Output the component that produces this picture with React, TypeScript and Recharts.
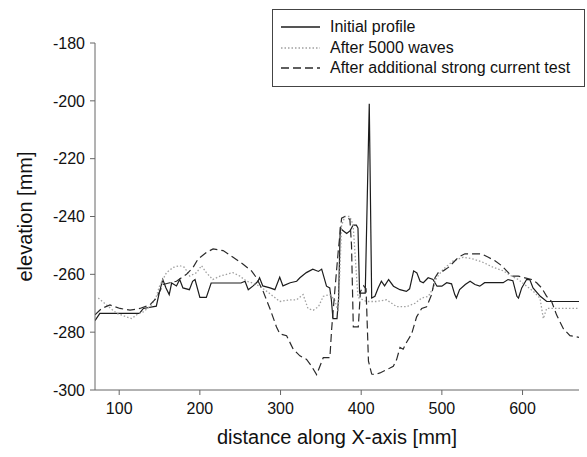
import React from 'react';
import { LineChart, Line, XAxis, YAxis, Legend } from 'recharts';

const xTicks = [100, 200, 300, 400, 500, 600];
const yTicks = [-300, -280, -260, -240, -220, -200, -180];

const initialProfile: [number, number][] = [
  [70, -276], [76, -273.5], [125, -273.5], [130, -271.8], [146, -271], [150, -266],
  [154, -261.8], [158, -264.7], [162, -267], [165, -263], [171, -264], [175, -261.8],
  [179, -264.7], [187, -265.3], [191, -262.4], [194, -261.8], [200, -268], [208, -268],
  [214, -263], [251, -263], [256, -262.4], [260, -265.3], [266, -264], [272, -262.4],
  [274, -261.2], [278, -264], [287, -264.7], [293, -265.3], [299, -261], [303, -264],
  [312, -262.9], [320, -262.4], [324, -261.2], [332, -259.4], [340, -258.2], [347, -259],
  [351, -258.2], [357, -264.1], [361, -264.7], [363, -268.8], [365, -275.3], [370, -275.3],
  [372, -268.2], [374, -244.1], [378, -245], [382, -245.9], [386, -245], [390, -243],
  [394, -243], [396, -244], [398, -266.5], [405, -266.5], [410, -201], [413, -268.2],
  [417, -267.6], [421, -264.7], [425, -262.4], [429, -264], [434, -261.8], [440, -264.1],
  [448, -265.3], [456, -265.9], [460, -265], [465, -258.8], [469, -259.5], [473, -262.4],
  [477, -262.9], [483, -261.2], [489, -261.8], [494, -264.1], [500, -264.1], [506, -262.9],
  [512, -263.3], [516, -267], [518, -268.2], [522, -265.3], [529, -263.5], [535, -262.4],
  [541, -263.5], [547, -264.1], [553, -262.9], [560, -262.9], [568, -262.9], [576, -262.9],
  [582, -261.8], [588, -262.2], [593, -267.6], [595, -268.2], [599, -264.7], [605, -261.8],
  [609, -261.8], [613, -264.7], [622, -267.6], [630, -269.4], [670, -269.4],
];

const after5000Waves: [number, number][] = [
  [74, -268.2], [84.5, -270.6], [97, -273.5], [109, -274.7], [115.5, -275.3], [124, -273.5],
  [130, -273], [140, -270.6], [146, -267.6], [150, -264.1], [158.6, -259.4], [167, -257.6],
  [175, -257], [181, -257.6], [187.5, -260.6], [196, -259.4], [202, -257], [208, -259.4],
  [216, -261.8], [225, -260.6], [233, -260], [241, -259.4], [249.5, -260.6], [258, -262.4],
  [266, -263], [274, -264.1], [283, -265.9], [291, -267.6], [299, -269.4], [311.6, -268.8],
  [320, -268.8], [328, -267], [334, -271.8], [340.5, -272.4], [347, -271.2], [353, -267.6],
  [361, -267], [367, -268.8], [371.6, -273], [375.7, -243], [379.8, -240], [386, -240],
  [390, -243], [396, -268], [406.7, -269.4], [419, -269.4], [431.5, -268.8], [444, -271.2],
  [456.3, -271.2], [466.7, -270], [475, -268.2], [483.2, -267.6], [489.4, -264.7],
  [493.5, -261.2], [501.8, -258.2], [514.2, -255.3], [526.6, -254.1], [539, -254.7],
  [551.4, -255.9], [563.8, -257.6], [576.2, -258.8], [586.5, -260.6], [594.8, -261.8],
  [605.1, -264.1], [613.4, -265.9], [621.6, -268.2], [625.8, -275.3], [629.9, -271.8],
  [670, -271.8],
];

const afterCurrentTest: [number, number][] = [
  [70, -274], [78.3, -271.8], [88.6, -270.6], [101, -271.8], [113.4, -272.4], [125.6, -271.8],
  [138, -270.6], [146.2, -268.2], [154.5, -263.5], [162.8, -262.9], [171, -262.4],
  [177.2, -261.2], [183.4, -260], [191.6, -257.6], [197.8, -254.7], [208.2, -252.4],
  [216.4, -251.2], [228.8, -251.8], [241.2, -254.1], [253.6, -256.5], [264, -258.8],
  [270.2, -261.2], [278.5, -265.9], [286.8, -271.8], [295, -278.2], [299.2, -280.6],
  [307.5, -281.2], [315.7, -285.9], [324, -288.2], [332.3, -289.4], [338.5, -291.8],
  [344.7, -294.7], [348.8, -291.8], [353, -288.8], [361.2, -288.8], [363.4, -278.8],
  [367.5, -265], [371.6, -251.8], [375.7, -240.6], [379.8, -240], [386, -241], [388, -250],
  [390.2, -278.2], [396.4, -278.2], [399, -266], [403, -264], [406, -265], [409, -290],
  [413, -294.5], [417, -294.7], [423.3, -294.1], [435.7, -292.4], [439.8, -291.8],
  [444, -289.4], [448.1, -285.3], [452, -285.9], [456.3, -283.5], [462.5, -280.6],
  [468.7, -274.7], [475, -271.8], [481.1, -271.2], [487.3, -267], [491.5, -261.2],
  [495.6, -259.4], [501.8, -258.8], [508, -257.6], [514.2, -255.9], [520.4, -254.1],
  [528.6, -252.9], [539, -252.9], [549.3, -252.9], [557.6, -254.1], [565.8, -255.3],
  [574.1, -257], [580.3, -258.8], [586.5, -260.6], [594.8, -260.6], [603, -261.2],
  [611.3, -261.8], [617.5, -262.9], [623.7, -264.7], [629.9, -267.6], [636.1, -269.4],
  [642.3, -274.1], [650.6, -278.8], [658.8, -281.2], [670, -281.8],
];

const seriesNames = ['Initial profile', 'After 5000 waves', 'After additional strong current test'];

const FONT = '"Liberation Sans", Arial, Helvetica, sans-serif';

const toRows = (pts: [number, number][]) => pts.map(([x, y]) => ({ x, y }));

const styles = [
  { stroke: '#1c1c1c', dash: undefined as string | undefined, width: 1.2 },
  { stroke: '#a0a0a0', dash: '1.5 2', width: 1.3 },
  { stroke: '#2a2a2a', dash: '8 4', width: 1.2 },
];

const series = [
  { name: seriesNames[0], rows: toRows(initialProfile), ...styles[0] },
  { name: seriesNames[1], rows: toRows(after5000Waves), ...styles[1] },
  { name: seriesNames[2], rows: toRows(afterCurrentTest), ...styles[2] },
];

function LegendBox() {
  return (
    <div
      style={{
        border: '1.5px solid #444',
        width: 313,
        height: 78,
        boxSizing: 'border-box',
        background: '#fff',
        fontFamily: FONT,
        fontSize: 16,
        color: '#111',
        padding: '7px 0 0 8px',
        lineHeight: 1,
      }}
    >
      {series.map((s) => (
        <div key={s.name} style={{ display: 'flex', alignItems: 'center', height: 20.5 }}>
          <svg width={39} height={10} style={{ display: 'block' }}>
            <line x1={0} y1={5} x2={39} y2={5} stroke={s.stroke} strokeWidth={1.5} strokeDasharray={s.dash} />
          </svg>
          <span style={{ marginLeft: 10, whiteSpace: 'nowrap' }}>{s.name}</span>
        </div>
      ))}
    </div>
  );
}

const XTitle = (props: any) => {
  const vb = props.viewBox || {};
  return (
    <text x={vb.x + vb.width / 2} y={vb.y + 54} textAnchor="middle" fontFamily={FONT} fontSize={20} fill="#111">
      distance along X-axis [mm]
    </text>
  );
};

const YTitle = (props: any) => {
  const vb = props.viewBox || {};
  const cx = 25;
  const cy = vb.y + vb.height / 2;
  return (
    <text x={cx} y={cy} textAnchor="middle" dominantBaseline="central" transform={`rotate(-90 ${cx} ${cy})`} fontFamily={FONT} fontSize={20} fill="#111">
      elevation [mm]
    </text>
  );
};

export default function App() {
  return (
    <div style={{ position: 'absolute', left: 0, top: 0, width: 587, height: 457, background: '#fff' }}>
      <LineChart width={587} height={457} margin={{ top: 43, right: 8, bottom: 27, left: 35 }}>
        <XAxis
          dataKey="x"
          type="number"
          domain={[70, 670]}
          ticks={xTicks}
          allowDataOverflow
          height={40}
          stroke="#666"
          tickSize={5}
          tickMargin={8}
          tick={{ fontFamily: FONT, fontSize: 16, fill: '#111' }}
          label={<XTitle />}
        />
        <YAxis
          dataKey="y"
          type="number"
          domain={[-300, -180]}
          ticks={yTicks}
          allowDataOverflow
          width={60}
          stroke="#666"
          tickSize={5}
          tickMargin={5}
          tick={{ fontFamily: FONT, fontSize: 16, fill: '#111' }}
          label={<YTitle />}
        />
        {series.map((s) => (
          <Line
            key={s.name}
            name={s.name}
            data={s.rows}
            dataKey="y"
            type="linear"
            stroke={s.stroke}
            strokeWidth={s.width}
            strokeDasharray={s.dash}
            dot={false}
            activeDot={false}
            isAnimationActive={false}
          />
        ))}
        <Legend
          layout="vertical"
          align="center"
          verticalAlign="middle"
          wrapperStyle={{ left: 272, top: 9, width: 313, height: 78 }}
          content={() => <LegendBox />}
        />
      </LineChart>
    </div>
  );
}
